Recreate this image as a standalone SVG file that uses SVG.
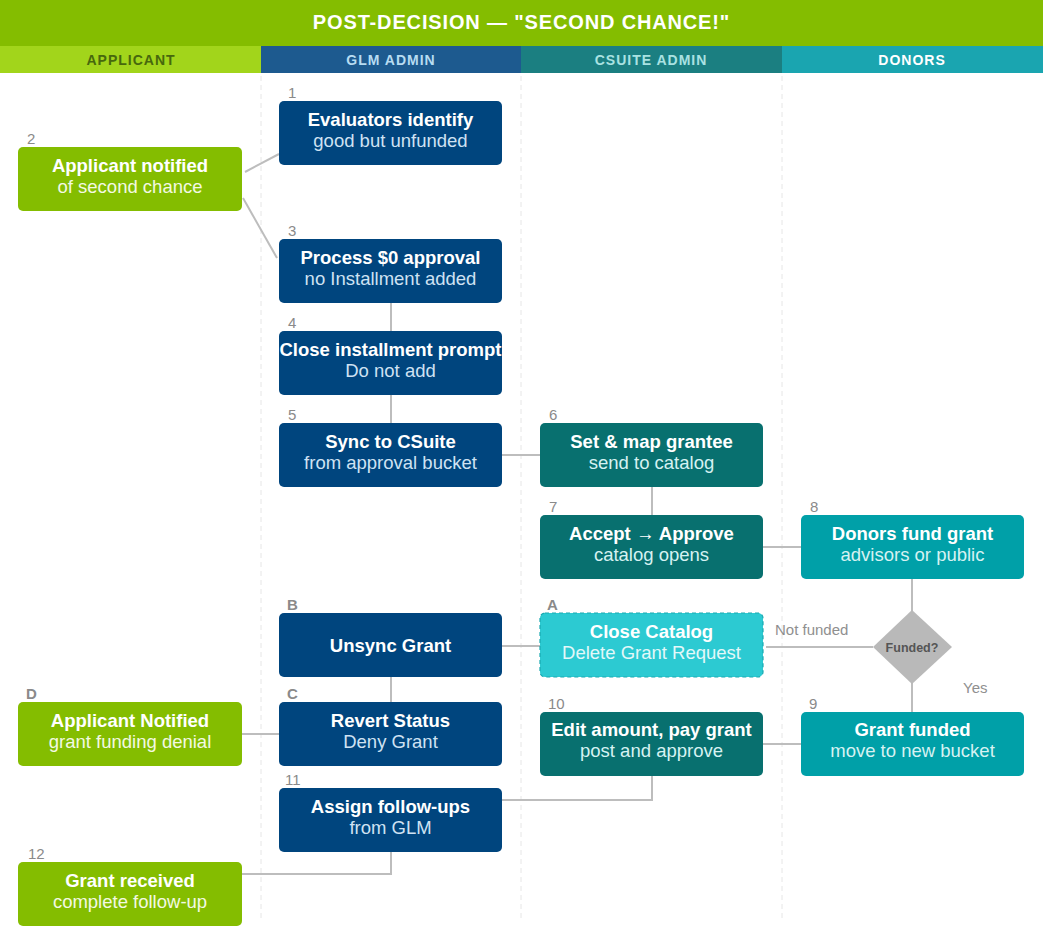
<svg xmlns="http://www.w3.org/2000/svg" width="1043" height="945" viewBox="0 0 1043 945">
<style>
text{font-family:"Liberation Sans",Arial,sans-serif}
.t{font-size:18.5px;font-weight:bold;fill:#fff;text-anchor:middle}
.s{font-size:18.5px;text-anchor:middle}
.sb{fill:#cfe2f3}.sg{fill:#f3f9e3}.st{fill:#d6f2f2}
.n{font-size:15px;fill:#8a8a8a}
.nb{font-size:15px;fill:#8a8a8a;font-weight:bold}
.lane{font-size:14px;font-weight:bold;letter-spacing:1px;text-anchor:middle}
.glm{fill:#00457e}.app{fill:#84bd00}.cs{fill:#08706f}.dn{fill:#00a0a8}
.conn{fill:none;stroke:#bdbdbd;stroke-width:2}
.div{stroke:#e6e6e6;stroke-width:1;stroke-dasharray:5 4}
.lbl{font-size:15px;fill:#8f8f8f}
</style>
<rect x="0" y="0" width="1043" height="945" fill="#fff"/>
<g id="header">
<rect x="0" y="0" width="1043" height="46" fill="#84bd00"/>
<text x="521.5" y="29" font-size="20" font-weight="bold" fill="#fff" text-anchor="middle" letter-spacing="0.85">POST-DECISION — "SECOND CHANCE!"</text>
<rect x="0" y="46" width="261" height="27" fill="#a2d51b"/>
<rect x="261" y="46" width="260" height="27" fill="#1d5a8f"/>
<rect x="521" y="46" width="261" height="27" fill="#1b7f81"/>
<rect x="782" y="46" width="261" height="27" fill="#1aa5b0"/>
<text class="lane" x="131" y="65" fill="#47680d">APPLICANT</text>
<text class="lane" x="391" y="65" fill="#b7dcf2">GLM ADMIN</text>
<text class="lane" x="651" y="65" fill="#a9e2e2">CSUITE ADMIN</text>
<text class="lane" x="912" y="65" fill="#ffffff">DONORS</text>
</g>
<g id="lanes">
<line class="div" x1="261" y1="76" x2="261" y2="918"/>
<line class="div" x1="521" y1="76" x2="521" y2="918"/>
<line class="div" x1="782" y1="76" x2="782" y2="918"/>
</g>
<g id="connectors">
<line class="conn" x1="245" y1="172" x2="279" y2="154"/>
<line class="conn" x1="243" y1="198" x2="277" y2="258"/>
<line class="conn" x1="391" y1="303" x2="391" y2="331"/>
<line class="conn" x1="391" y1="395" x2="391" y2="423"/>
<line class="conn" x1="502" y1="455" x2="540" y2="455"/>
<line class="conn" x1="652" y1="487" x2="652" y2="515"/>
<line class="conn" x1="763" y1="547" x2="801" y2="547"/>
<line class="conn" x1="912" y1="579" x2="912" y2="611"/>
<line class="conn" x1="873" y1="647" x2="766" y2="647"/>
<line class="conn" x1="912" y1="683" x2="912" y2="712"/>
<line class="conn" x1="540" y1="646" x2="502" y2="646"/>
<line class="conn" x1="391" y1="677" x2="391" y2="702"/>
<line class="conn" x1="279" y1="734" x2="242" y2="734"/>
<line class="conn" x1="801" y1="744" x2="763" y2="744"/>
<polyline class="conn" points="652,775 652,800 502,800"/>
<polyline class="conn" points="391,852 391,874 242,874"/>
<text class="lbl" x="775" y="635">Not funded</text>
<text class="lbl" x="963" y="693">Yes</text>
</g>
<g id="n1">
<text class="n" x="288" y="98">1</text>
<rect class="glm" x="279" y="101" width="223" height="64" rx="5"/>
<text class="t" x="390.5" y="126">Evaluators identify</text>
<text class="s sb" x="390.5" y="147">good but unfunded</text>
</g>
<g id="n2">
<text class="n" x="27" y="144">2</text>
<rect class="app" x="18" y="147" width="224" height="64" rx="5"/>
<text class="t" x="130" y="172">Applicant notified</text>
<text class="s sg" x="130" y="193">of second chance</text>
</g>
<g id="n3">
<text class="n" x="288" y="236">3</text>
<rect class="glm" x="279" y="239" width="223" height="64" rx="5"/>
<text class="t" x="390.5" y="264">Process $0 approval</text>
<text class="s sb" x="390.5" y="285">no Installment added</text>
</g>
<g id="n4">
<text class="n" x="288" y="328">4</text>
<rect class="glm" x="279" y="331" width="223" height="64" rx="5"/>
<text class="t" x="390.5" y="356">Close installment prompt</text>
<text class="s sb" x="390.5" y="377">Do not add</text>
</g>
<g id="n5">
<text class="n" x="288" y="420">5</text>
<rect class="glm" x="279" y="423" width="223" height="64" rx="5"/>
<text class="t" x="390.5" y="448">Sync to CSuite</text>
<text class="s sb" x="390.5" y="469">from approval bucket</text>
</g>
<g id="n6">
<text class="n" x="549" y="420">6</text>
<rect class="cs" x="540" y="423" width="223" height="64" rx="5"/>
<text class="t" x="651.5" y="448">Set &amp; map grantee</text>
<text class="s st" x="651.5" y="469">send to catalog</text>
</g>
<g id="n7">
<text class="n" x="549" y="512">7</text>
<rect class="cs" x="540" y="515" width="223" height="64" rx="5"/>
<text class="t" x="651.5" y="540">Accept → Approve</text>
<text class="s st" x="651.5" y="561">catalog opens</text>
</g>
<g id="n8">
<text class="n" x="810" y="512">8</text>
<rect class="dn" x="801" y="515" width="223" height="64" rx="5"/>
<text class="t" x="912.5" y="540">Donors fund grant</text>
<text class="s st" x="912.5" y="561">advisors or public</text>
</g>
<g id="nB">
<text class="nb" x="287" y="610">B</text>
<rect class="glm" x="279" y="613" width="223" height="64" rx="5"/>
<text class="t" x="390.5" y="652">Unsync Grant</text>
</g>
<g id="nA">
<text class="nb" x="547" y="610">A</text>
<rect x="540" y="613" width="223" height="64" rx="5" fill="#2ccad2" stroke="#1aa9b1" stroke-width="1.2" stroke-dasharray="4 3"/>
<text class="t" x="651.5" y="638">Close Catalog</text>
<text class="s" x="651.5" y="659" fill="#e3f8f9">Delete Grant Request</text>
</g>
<g id="decision">
<polygon points="912,610 952,647 912,684 873,647" fill="#b9b9b9"/>
<text x="912" y="652" font-size="12.5" font-weight="bold" fill="#555" text-anchor="middle">Funded?</text>
</g>
<g id="nC">
<text class="nb" x="287" y="699">C</text>
<rect class="glm" x="279" y="702" width="223" height="64" rx="5"/>
<text class="t" x="390.5" y="727">Revert Status</text>
<text class="s sb" x="390.5" y="748">Deny Grant</text>
</g>
<g id="nD">
<text class="nb" x="26" y="699">D</text>
<rect class="app" x="18" y="702" width="224" height="64" rx="5"/>
<text class="t" x="130" y="727">Applicant Notified</text>
<text class="s sg" x="130" y="748">grant funding denial</text>
</g>
<g id="n10">
<text class="n" x="548" y="709">10</text>
<rect class="cs" x="540" y="712" width="223" height="64" rx="5"/>
<text class="t" x="651.5" y="736">Edit amount, pay grant</text>
<text class="s st" x="651.5" y="757">post and approve</text>
</g>
<g id="n9">
<text class="n" x="809" y="709">9</text>
<rect class="dn" x="801" y="712" width="223" height="64" rx="5"/>
<text class="t" x="912.5" y="736">Grant funded</text>
<text class="s st" x="912.5" y="757">move to new bucket</text>
</g>
<g id="n11">
<text class="n" x="285" y="785">11</text>
<rect class="glm" x="279" y="788" width="223" height="64" rx="5"/>
<text class="t" x="390.5" y="813">Assign follow-ups</text>
<text class="s sb" x="390.5" y="834">from GLM</text>
</g>
<g id="n12">
<text class="n" x="28" y="859">12</text>
<rect class="app" x="18" y="862" width="224" height="64" rx="5"/>
<text class="t" x="130" y="887">Grant received</text>
<text class="s sg" x="130" y="908">complete follow-up</text>
</g>
</svg>
